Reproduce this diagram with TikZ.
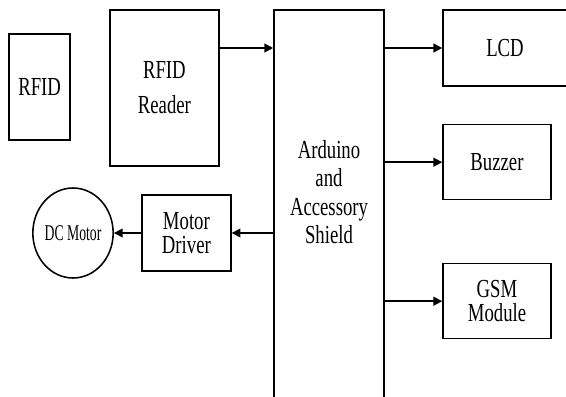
\documentclass[tikz,border=0pt]{standalone}
\usepackage{fontspec}
\setmainfont{Liberation Serif}[FakeStretch=0.72]
\newfontfamily\narrowserif{Liberation Serif}[FakeStretch=0.61]
\usetikzlibrary{shapes.geometric,positioning,arrows.meta}

\begin{document}
\begin{tikzpicture}[
  box/.style={rectangle, draw, line width=1.1pt, align=center, inner sep=2pt, font=\fontsize{18.5}{17}\selectfont},
  arrow/.style={-{Triangle[length=2.2mm, width=2.2mm]}, line width=1.1pt},
]

\useasboundingbox (0,0) rectangle (14.15,-9.9);

% === Input side ===
\node[box, minimum width=1.525cm, minimum height=2.65cm] (rfid) at (0.99, -2.175) {RFID};
\node[box, minimum width=2.725cm, minimum height=3.9cm] (reader) at (4.11, -2.2) {RFID\\[7.8pt]Reader};

% === Controller ===
\node[box, minimum width=2.75cm, minimum height=10.75cm] (ard) at (8.225, -5.625) {};
\node[align=center, font=\fontsize{18.5}{17}\selectfont] (ardtext) at (8.225, -4.8) {Arduino\\[3.3pt]and\\[3.3pt]Accessory\\[3.3pt]Shield};

\draw[arrow] (reader.east |- 0,-1.2) -- (ard.west |- 0,-1.2);

% === Outputs ===
\node[box, minimum width=3.1cm, minimum height=1.9cm] (lcd) at (12.625, -1.2) {LCD};
\node[box, minimum width=2.7cm, minimum height=1.875cm] (buzzer) at (12.425, -4.055) {Buzzer};
\node[box, minimum width=2.7cm, minimum height=1.875cm] (gsm) at (12.425, -7.53) {GSM\\Module};

\draw[arrow] (ard.east |- lcd.west) -- (lcd.west);
\draw[arrow] (ard.east |- buzzer.west) -- (buzzer.west);
\draw[arrow] (ard.east |- gsm.west) -- (gsm.west);

% === Motor ===
\node[box, minimum width=2.225cm, minimum height=1.9cm] (drv) at (4.66, -5.825) {Motor\\Driver};
\node[ellipse, draw, line width=1.1pt, inner sep=0pt, minimum width=1.7cm, minimum height=2.25cm,
  font=\narrowserif\fontsize{16}{18}\selectfont] (motor) at (1.825, -5.825) {DC Motor};

\draw[arrow] (ard.west |- drv.east) -- (drv.east);
\draw[arrow] (drv.west) -- (motor.east);

\end{tikzpicture}
\end{document}
